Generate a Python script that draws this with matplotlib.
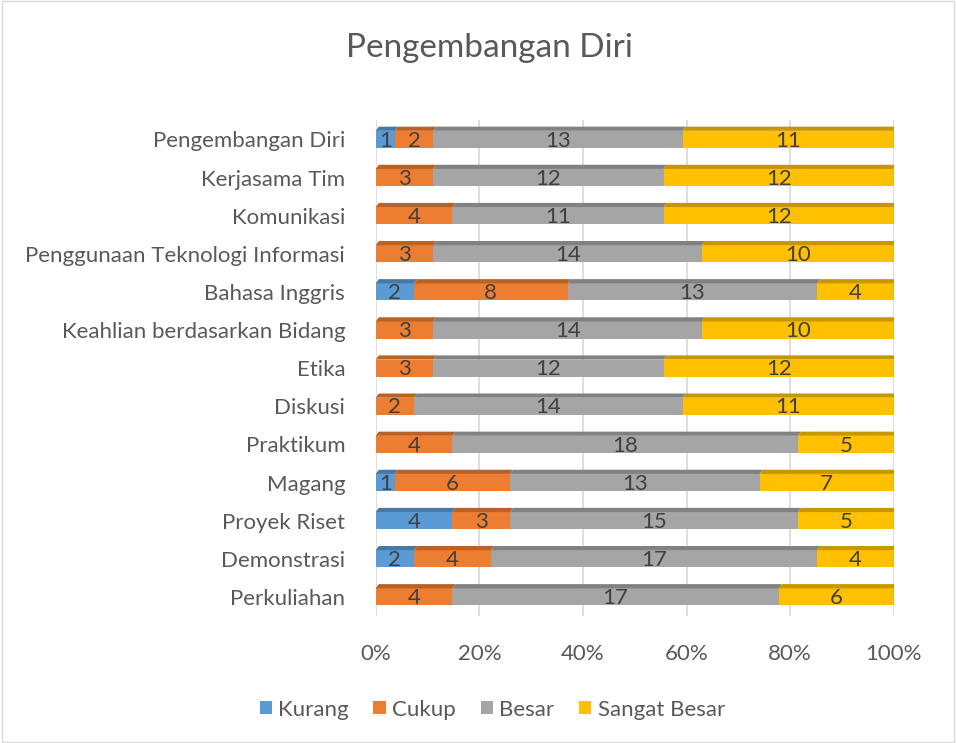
import matplotlib
matplotlib.use("Agg")
import matplotlib.pyplot as plt
from matplotlib.patches import Polygon, Rectangle
from matplotlib.colors import to_rgb
import numpy as np

categories = ["Pengembangan Diri", "Kerjasama Tim", "Komunikasi",
              "Penggunaan Teknologi Informasi", "Bahasa Inggris",
              "Keahlian berdasarkan Bidang", "Etika", "Diskusi", "Praktikum",
              "Magang", "Proyek Riset", "Demonstrasi", "Perkuliahan"]
kurang = [1, 0, 0, 0, 2, 0, 0, 0, 0, 1, 4, 2, 0]
cukup = [2, 3, 4, 3, 8, 3, 3, 2, 4, 6, 3, 4, 4]
besar = [13, 12, 11, 14, 13, 14, 12, 14, 18, 13, 15, 17, 17]
sangat_besar = [11, 12, 12, 10, 4, 10, 12, 11, 5, 7, 5, 4, 6]
series_names = ["Kurang", "Cukup", "Besar", "Sangat Besar"]
colors = ["#5B9BD5", "#ED7D31", "#A5A5A5", "#FFC000"]
xticks = [0, 0.2, 0.4, 0.6, 0.8, 1.0]
xticklabels = ["0%", "20%", "40%", "60%", "80%", "100%"]

plt.rcParams['font.family'] = ['Lato', 'DejaVu Sans']
txt = "#595959"

fig = plt.figure(figsize=(9.56, 7.43), dpi=100)
fig.patches.append(Rectangle((0.002, 0.002), 0.996, 0.996, transform=fig.transFigure,
                             fill=False, edgecolor="#D9D9D9", lw=1.0))
ax = fig.add_axes([0.393, 0.171, 0.542, 0.667])

data = np.array([kurang, cukup, besar, sangat_besar], dtype=float)
totals = data.sum(axis=0)
frac = data / totals
y = np.arange(len(categories))
h = 0.45
dy = 0.11
dx = 0.006

def darker(c, f=0.78):
    r, g, b = to_rgb(c)
    return (r * f, g * f, b * f)

left = np.zeros(len(categories))
for i, (name, col) in enumerate(zip(series_names, colors)):
    ax.barh(y, frac[i], left=left, height=h, color=col, label=name, zorder=3)
    for j in range(len(categories)):
        w = frac[i][j]
        if w <= 0:
            continue
        top = y[j] - h / 2
        poly = Polygon([(left[j], top), (left[j] + w, top),
                        (left[j] + w + dx, top - dy), (left[j] + dx, top - dy)],
                       closed=True, facecolor=darker(col), edgecolor="none", zorder=3)
        ax.add_patch(poly)
        if i == len(series_names) - 1:
            side = Polygon([(left[j] + w, top), (left[j] + w + dx, top - dy),
                            (left[j] + w + dx, top - dy + h), (left[j] + w, top + h)],
                           closed=True, facecolor=darker(col, 0.7), edgecolor="none", zorder=3)
            ax.add_patch(side)
        ax.text(left[j] + w / 2, y[j] + 0.03, f"{int(data[i][j])}", ha="center", va="center",
                fontsize=16, color="#404040", zorder=4)
    left = left + frac[i]

ax.set_xlim(0, 1.0)
ax.set_ylim(len(categories) - 0.5, -0.5)
ax.set_yticks(y)
ax.set_yticklabels(categories, fontsize=16, color=txt)
ax.set_xticks(xticks)
ax.set_xticklabels(xticklabels, fontsize=16, color=txt)
ax.tick_params(axis="both", length=0)
ax.tick_params(axis="x", pad=20)
ax.tick_params(axis="y", pad=22)
for s in ax.spines.values():
    s.set_visible(False)
ax.xaxis.grid(True, color="#D9D9D9", lw=1.2, zorder=0)
ax.set_axisbelow(True)

fig.text(0.512, 0.935, "Pengembangan Diri", ha="center", va="center", fontsize=24, color=txt)
handles, labels = ax.get_legend_handles_labels()
fig.legend(handles, labels, loc="center", bbox_to_anchor=(0.515, 0.045), ncol=4, frameon=False,
           fontsize=16, labelcolor=txt, handlelength=0.55, handleheight=0.55, columnspacing=1.1,
           handletextpad=0.3)

fig.savefig("out.png", dpi=100)
